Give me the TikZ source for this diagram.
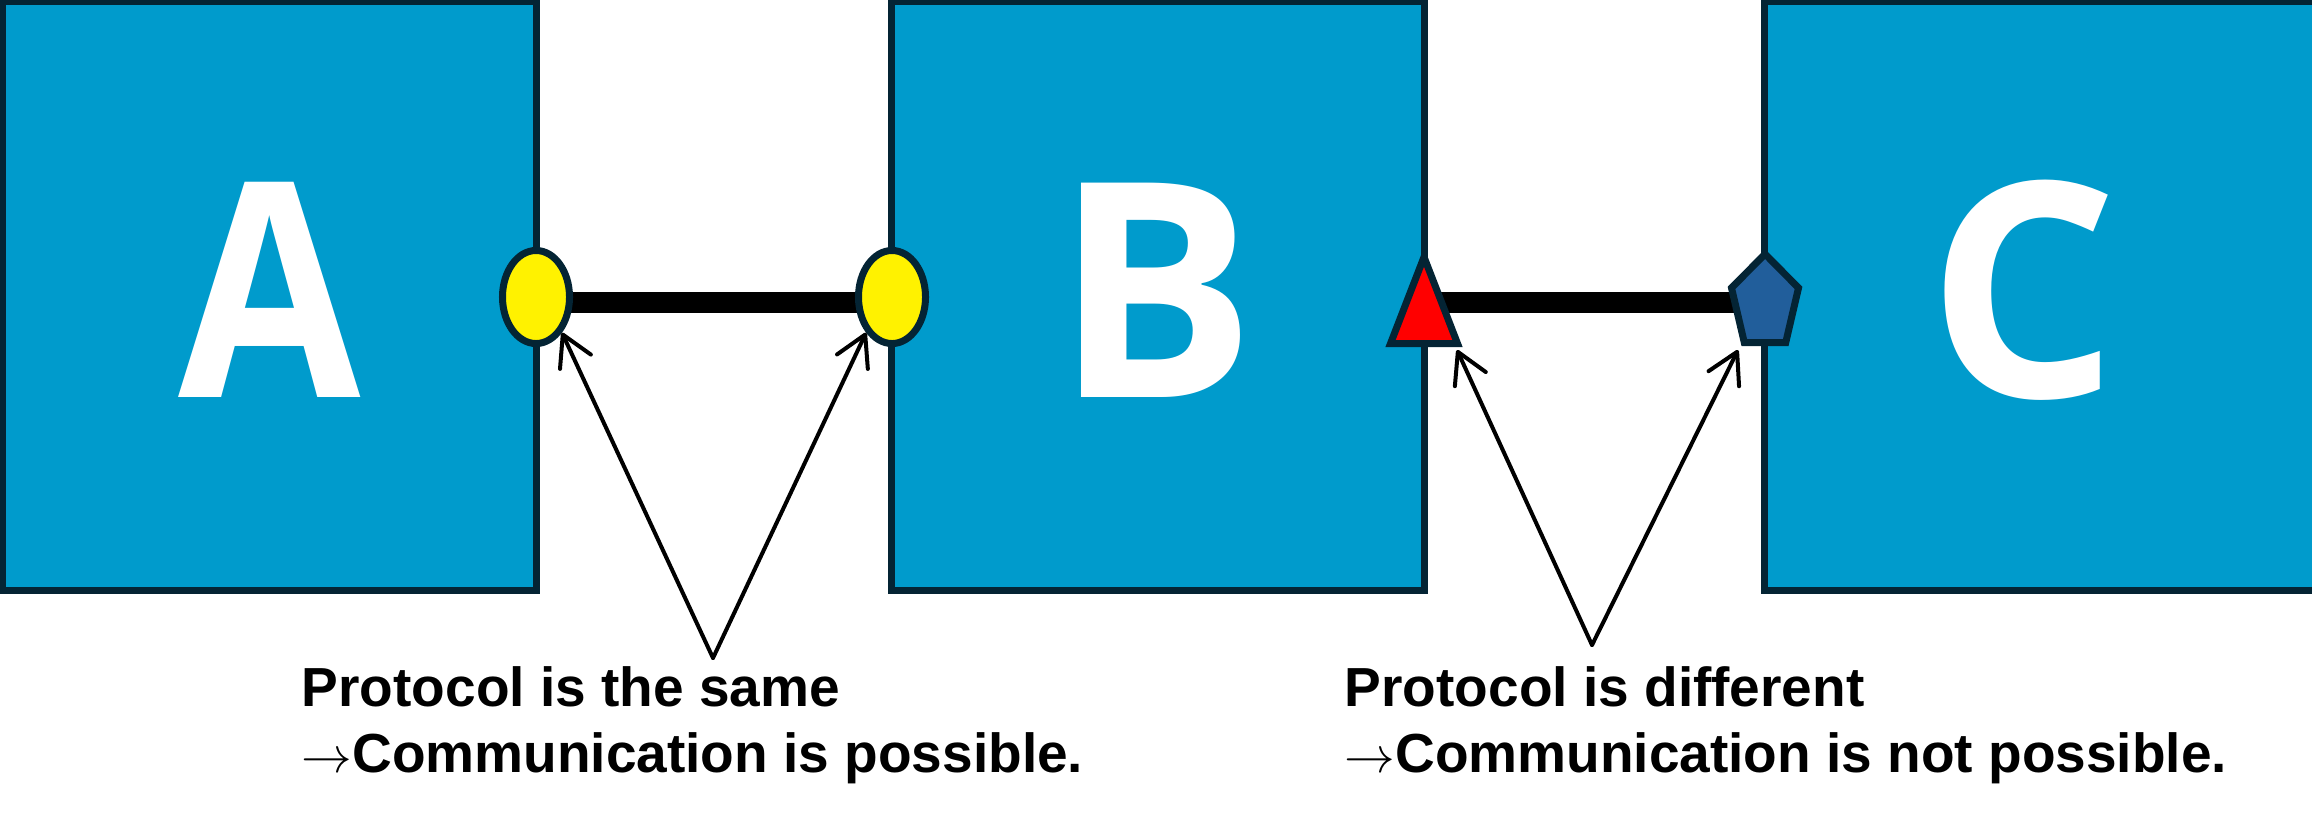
\documentclass[tikz,border=0pt]{standalone}
\usepackage{fontspec}
\setmainfont{Liberation Sans}
\newfontfamily\boxfont{Open Sans}
\usetikzlibrary{arrows.meta,shapes.geometric}

\definecolor{boxblue}{RGB}{0,155,204}
\definecolor{navyline}{RGB}{4,36,52}
\definecolor{pentblue}{RGB}{33,94,155}

\begin{document}
\begin{tikzpicture}[x=0.01cm,y=-0.01cm]
\useasboundingbox (0,0) rectangle (2312,820);

\begin{scope}[every node/.style={rectangle,draw=navyline,line width=0.07cm,fill=boxblue,
                                 inner sep=0pt,minimum height=5.89cm}]
    \node[minimum width=5.335cm] (A) at (269.75,296) {};
    \node[minimum width=5.328cm] (B) at (1158.1,296) {};
    \node[minimum width=5.53cm] (C) at (2041.5,296) {};
\end{scope}

\begin{scope}[every node/.style={anchor=base,text=white,inner sep=0pt,
                                 font=\boxfont\bfseries\fontsize{85.4pt}{90pt}\selectfont}]
    \node (nA) at (269.5,397) {\scalebox{0.88}[1]{A}};
    \node (nB) at (1155,397) {B};
    \node (nC) at (2023,397) {C};
\end{scope}

% thick links between the protocol ports
\coordinate (jA) at (536,302.5);
\coordinate (jB) at (892,302.5);
\coordinate (jB2) at (1424,302.5);
\coordinate (jC) at (1765,302.5);
\begin{scope}[every edge/.style={draw=black,line width=0.21cm}]
    \path (jA) edge (jB);
    \path (jB2) edge (jC);
\end{scope}

\begin{scope}[every node/.style={ellipse,draw=navyline,line width=0.07cm,fill=yellow,
                                 inner sep=0pt,minimum width=0.67cm,minimum height=0.93cm}]
    \node (pA) at (536,297) {};
    \node (pB) at (892,297) {};
\end{scope}
\draw[navyline,line width=0.07cm,fill=red]
    (1424,257) -- (1457.5,343.5) -- (1390.5,343.5) -- cycle;
\draw[navyline,line width=0.07cm,fill=pentblue]
    (1765,254) -- (1798.5,287.9) -- (1785.7,342.6) -- (1744.3,342.6) -- (1731.5,287.9) -- cycle;
\coordinate (triR) at (1457,350);
\coordinate (pentL) at (1738,350);

% captions
\begin{scope}[every node/.style={anchor=north west,align=left,inner sep=0pt,
                                 font=\bfseries\fontsize{15.65pt}{18.78pt}\selectfont}]
    \node (capS) at (301,665.6) {Protocol is the same\\$\rightarrow$Communication is possible.};
    \node (capD) at (1344,665.6) {Protocol is different\\$\rightarrow$Communication is not possible.};
\end{scope}

\coordinate (same) at (713,658);
\coordinate (diff) at (1592,645);
\begin{scope}[every edge/.style={draw=black,line width=0.04cm,line cap=round,
                                 -{Straight Barb[length=0.3cm,width=0.34cm,round]}}]
    \path (same) edge (pA.-54);
    \path (same) edge (pB.-126);
    \path (diff) edge (triR);
    \path (diff) edge (pentL);
\end{scope}
\end{tikzpicture}
\end{document}
